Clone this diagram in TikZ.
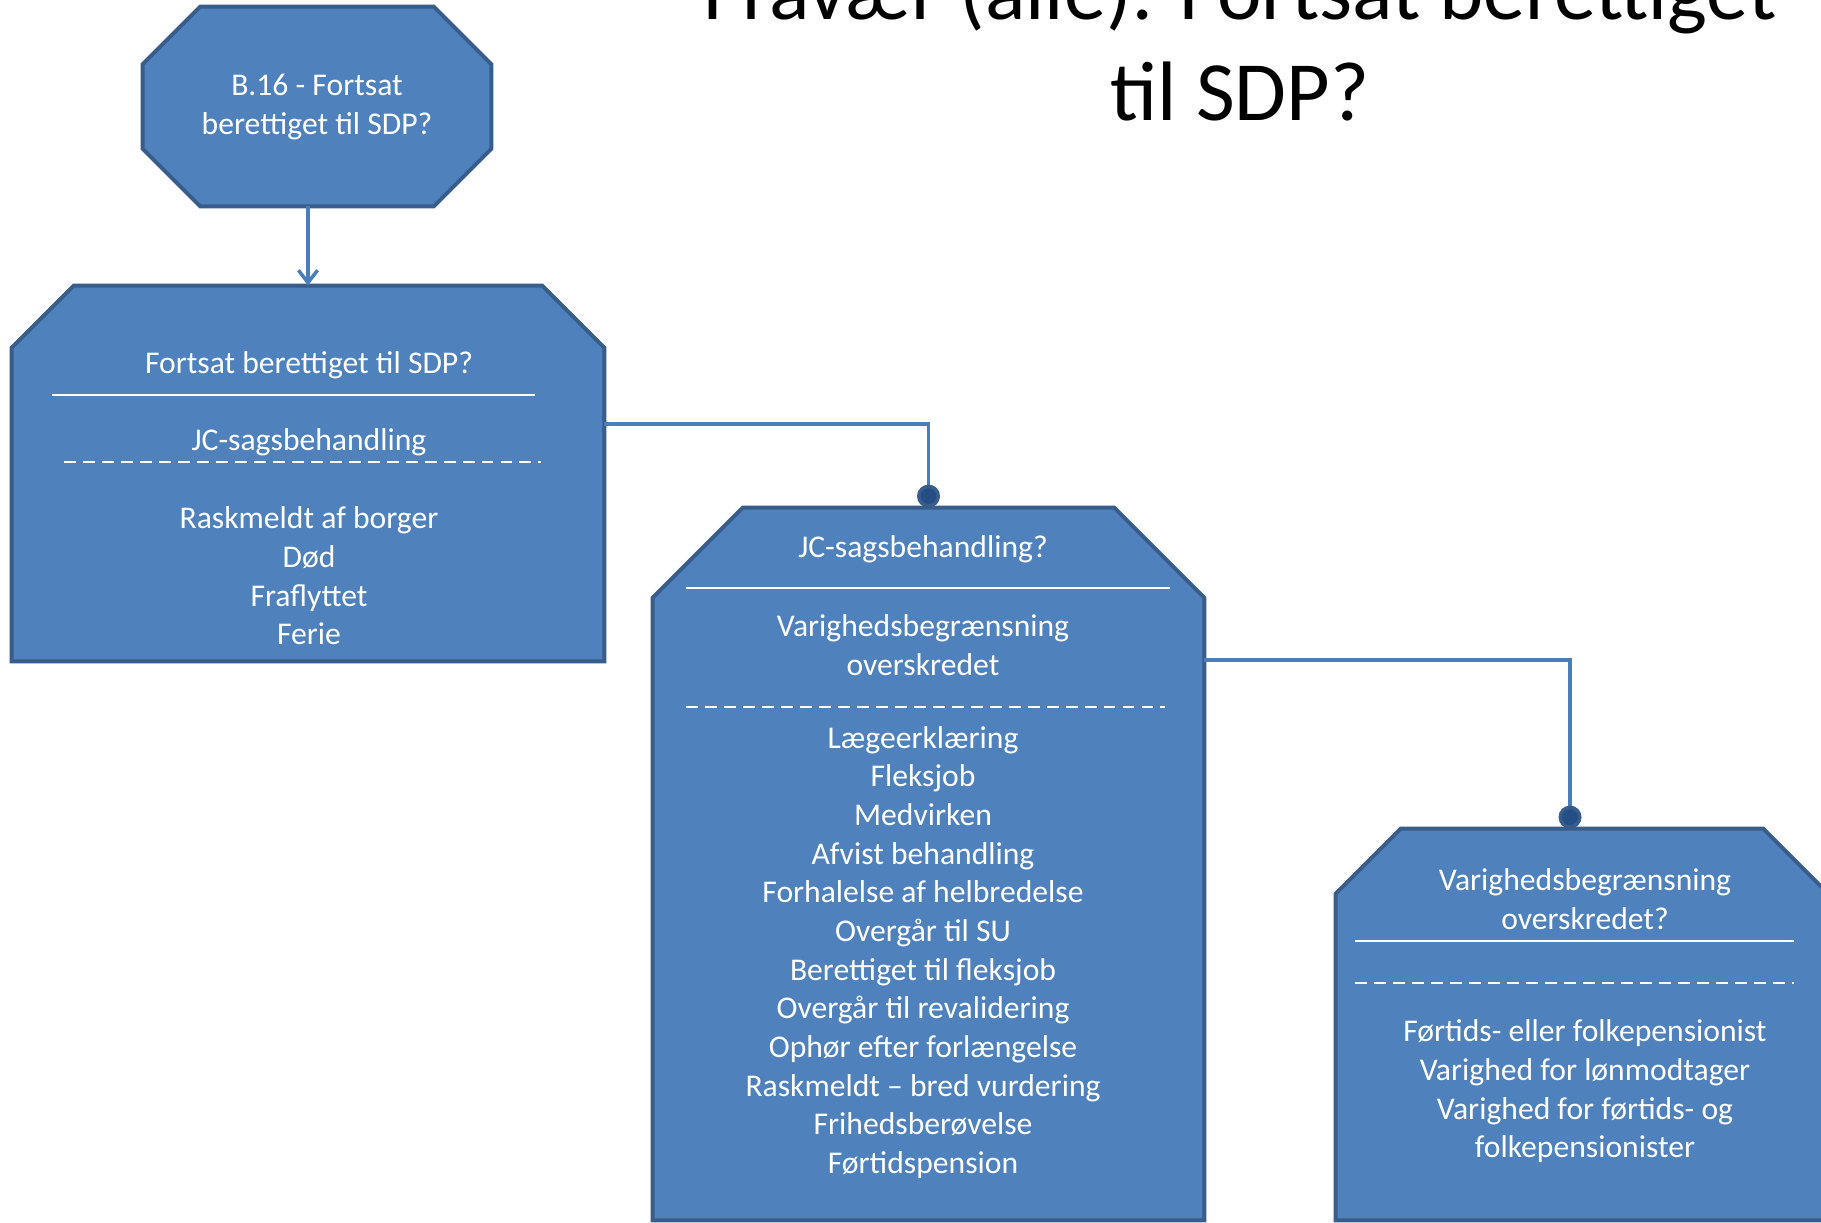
\documentclass[tikz,border=0pt]{standalone}
\usepackage{fontspec}
\setmainfont{Carlito}
\usepackage{xcolor}
\usepackage{tikz}
\usetikzlibrary{arrows.meta, positioning, calc}

\definecolor{boxfill}{HTML}{4F81BD}
\definecolor{boxline}{HTML}{385D8A}
\definecolor{connline}{HTML}{4A7EBB}
\definecolor{dotfill}{HTML}{254E86}

\begin{document}
\begin{tikzpicture}
    \tikzstyle{boxarea} = [rectangle, inner sep=0pt]
    \tikzstyle{boxshape} = [draw=boxline, fill=boxfill, line width=2.2pt]
    \tikzstyle{boxtext} = [text=white, align=center, font=\fontsize{18}{22}\selectfont]
    \tikzstyle{solidsep} = [white, line width=1.4pt]
    \tikzstyle{dashsep} = [white, line width=1.4pt, dash pattern=on 6.8pt off 4pt]
    \tikzstyle{link} = [connline, line width=2pt]
    \tikzstyle{dotend} = [-{Circle[length=0.46cm, fill=dotfill, color=boxline]}]

    \clip (0,0) rectangle (36.42,-24.46);
    \fill[white] (0,0) rectangle (36.42,-24.46);

    % Title
    \node[anchor=south, inner sep=0pt, align=center, font=\fontsize{48}{57}\selectfont] (title) at (24.80,-2.42) {Fravær (alle): Fortsat berettiget\\til SDP?};

    % Step B.16
    \node[boxarea, minimum width=6.96cm, minimum height=3.98cm] (b16) at (6.34,-2.13) {};
    \draw[boxshape] ([xshift=1.15cm]b16.north west) -- ([xshift=-1.15cm]b16.north east) -- ([yshift=-1.15cm]b16.north east)
        -- ([yshift=1.15cm]b16.south east) -- ([xshift=-1.15cm]b16.south east) -- ([xshift=1.15cm]b16.south west)
        -- ([yshift=1.15cm]b16.south west) -- ([yshift=-1.15cm]b16.north west) -- cycle;
    \node[boxtext] (b16txt) at (6.34,-2.14) {B.16 - Fortsat\\berettiget til SDP?};

    % Fortsat berettiget
    \node[boxarea, minimum width=11.84cm, minimum height=7.50cm] (fortsat) at (6.16,-9.47) {};
    \draw[boxshape] ([xshift=1.24cm]fortsat.north west) -- ([xshift=-1.24cm]fortsat.north east) -- ([yshift=-1.24cm]fortsat.north east)
        -- (fortsat.south east) -- (fortsat.south west) -- ([yshift=-1.24cm]fortsat.north west) -- cycle;
    \node[boxtext] (fortsatq) at (6.18,-7.30) {Fortsat berettiget til SDP?};
    \draw[solidsep] (1.04,-7.90) -- (10.70,-7.90);
    \node[boxtext] (fortsatjc) at (6.18,-8.84) {JC-sagsbehandling};
    \draw[dashsep] (1.28,-9.24) -- (10.82,-9.24);
    \node[boxtext] (fortsatlist) at (6.18,-11.52) {Raskmeldt af borger\\Død\\Fraflyttet\\Ferie};

    % JC-sagsbehandling
    \node[boxarea, minimum width=11.02cm, minimum height=14.24cm] (jc) at (18.57,-17.28) {};
    \draw[boxshape] ([xshift=1.8cm]jc.north west) -- ([xshift=-1.8cm]jc.north east) -- ([yshift=-1.8cm]jc.north east)
        -- (jc.south east) -- (jc.south west) -- ([yshift=-1.8cm]jc.north west) -- cycle;
    \node[boxtext] (jcq) at (18.46,-10.98) {JC-sagsbehandling?};
    \draw[solidsep] (13.72,-11.76) -- (23.40,-11.76);
    \node[boxtext] (jcvar) at (18.46,-12.90) {Varighedsbegrænsning\\overskredet};
    \draw[dashsep] (13.72,-14.14) -- (23.30,-14.14);
    \node[boxtext] (jclist) at (18.46,-19.05) {Lægeerklæring\\Fleksjob\\Medvirken\\Afvist behandling\\Forhalelse af helbredelse\\Overgår til SU\\Berettiget til fleksjob\\Overgår til revalidering\\Ophør efter forlængelse\\Raskmeldt – bred vurdering\\Frihedsberøvelse\\Førtidspension};

    % Varighedsbegraensning
    \node[boxarea, minimum width=9.84cm, minimum height=7.82cm] (varig) at (31.64,-20.49) {};
    \draw[boxshape] ([xshift=1.3cm]varig.north west) -- ([xshift=-1.3cm]varig.north east) -- ([yshift=-1.3cm]varig.north east)
        -- (varig.south east) -- (varig.south west) -- ([yshift=-1.3cm]varig.north west) -- cycle;
    \node[boxtext] (varq) at (31.70,-17.98) {Varighedsbegrænsning\\overskredet?};
    \draw[solidsep] (27.10,-18.82) -- (35.88,-18.82);
    \draw[dashsep] (27.10,-19.66) -- (35.88,-19.66);
    \node[boxtext] (varlist) at (31.70,-21.83) {Førtids- eller folkepensionist\\Varighed for lønmodtager\\Varighed for førtids- og\\folkepensionister};

    \draw[link, -{Straight Barb[length=0.25cm, width=0.38cm]}] (fortsat.north |- b16.south) -- (fortsat.north);
    \draw[link, dotend] ([yshift=0.99cm]fortsat.east) -| (jc.north);
    \draw[link, dotend] ([yshift=4.08cm]jc.east) -| ([xshift=-0.24cm]varig.north);
\end{tikzpicture}
\end{document}
